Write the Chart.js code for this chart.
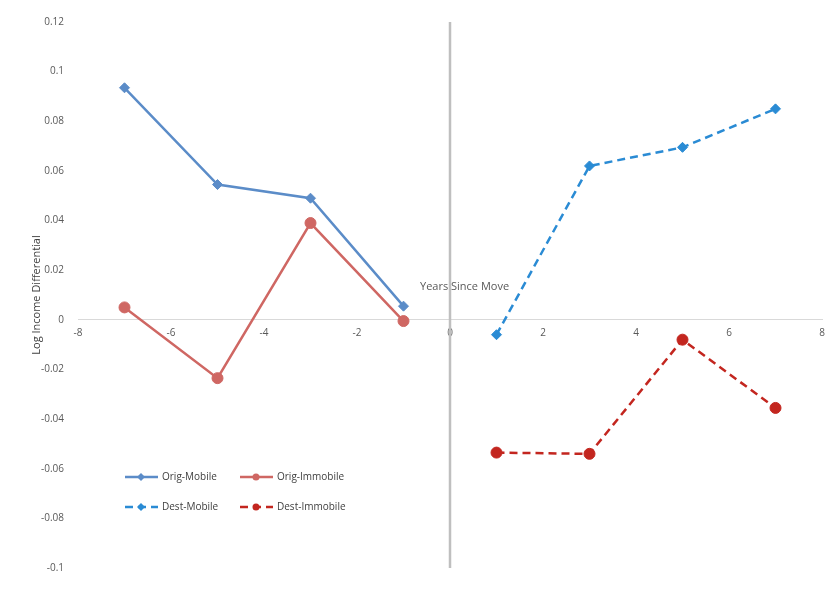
<!DOCTYPE html>
<html>
<head>
<meta charset="utf-8">
<script src="https://cdn.jsdelivr.net/npm/chart.js@4"></script>
<style>
  body { margin: 0; background: #fff; }
  #wrap { width: 830px; height: 602px; }
</style>
</head>
<body>
<div id="wrap"><canvas id="c"></canvas></div>
<script>
// years relative to the move
const origYears = [-7, -5, -3, -1];
const destYears = [1, 3, 5, 7];

// log income differentials
const origMobile = [0.0935, 0.0545, 0.049, 0.0055];
const origImmobile = [0.005, -0.0235, 0.039, -0.0005];
const destMobile = [-0.006, 0.062, 0.0695, 0.085];
const destImmobile = [-0.0535, -0.054, -0.008, -0.0355];

const seriesNames = ['Orig-Mobile', 'Orig-Immobile', 'Dest-Mobile', 'Dest-Immobile'];
const seriesColors = ['#5b8cc8', '#cf6763', '#2a8bd4', '#c3261f'];

const toPoints = (xs, ys) => xs.map((x, i) => ({ x: x, y: ys[i] }));

function makeSet(i, xs, ys, style, dashed) {
    return {
        label: seriesNames[i],
        data: toPoints(xs, ys),
        borderColor: seriesColors[i],
        backgroundColor: seriesColors[i],
        borderWidth: 2.5,
        borderDash: dashed ? [8, 5] : [],
        pointStyle: style,
        pointRadius: style === 'circle' ? 5.5 : 5,
        pointBorderWidth: 1,
        tension: 0
    };
}

//plugin for the zero line, axis title and the inner legend
const extras = {
    id: 'extras',
    afterDatasetsDraw(chart) {
        const { ctx, scales: { x, y } } = chart;
        ctx.save();
        ctx.strokeStyle = '#bfbfbf';
        ctx.lineWidth = 2.5;
        ctx.beginPath();
        ctx.moveTo(x.getPixelForValue(0), y.top);
        ctx.lineTo(x.getPixelForValue(0), y.bottom);
        ctx.stroke();

        ctx.fillStyle = '#595959';
        ctx.font = '11px "Open Sans", sans-serif';
        ctx.textBaseline = 'middle';
        ctx.fillText('Years Since Move', 420, 287);

        const spots = [[125, 477], [240, 477], [125, 507], [240, 507]];
        chart.data.datasets.forEach((ds, i) => {
            const [lx, ly] = spots[i];
            ctx.strokeStyle = ds.borderColor;
            ctx.fillStyle = ds.borderColor;
            ctx.lineWidth = 2.5;
            ctx.setLineDash(ds.borderDash);
            ctx.beginPath();
            ctx.moveTo(lx, ly);
            ctx.lineTo(lx + 33, ly);
            ctx.stroke();
            ctx.setLineDash([]);
            ctx.beginPath();
            const cx = lx + 16;
            if (ds.pointStyle === 'circle') {
                ctx.arc(cx, ly, 3.5, 0, Math.PI * 2);
            } else {
                ctx.moveTo(cx, ly - 4); ctx.lineTo(cx + 4, ly);
                ctx.lineTo(cx, ly + 4); ctx.lineTo(cx - 4, ly);
                ctx.closePath();
            }
            ctx.fill();
            ctx.fillStyle = '#404040';
            ctx.font = '10px "Open Sans", sans-serif';
            ctx.fillText(ds.label, lx + 37, ly);
        });
        ctx.restore();
    }
};

new Chart(document.getElementById('c'), {
    type: 'line',
    data: {
        datasets: [
            makeSet(0, origYears, origMobile, 'rectRot', false),
            makeSet(1, origYears, origImmobile, 'circle', false),
            makeSet(2, destYears, destMobile, 'rectRot', true),
            makeSet(3, destYears, destImmobile, 'circle', true)
        ]
    },
    options: {
        responsive: true,
        maintainAspectRatio: false,
        animation: false,
        layout: { padding: { top: 22, right: 8, bottom: 34, left: 26 } },
        scales: {
            x: {
                type: 'linear',
                min: -8, max: 8,
                position: { y: 0 },
                grid: { display: false, drawTicks: true, tickLength: 4 },
                border: { color: '#d9d9d9', width: 1 },
                ticks: { stepSize: 2, color: '#595959', font: { size: 10, family: '"Open Sans", sans-serif' } }
            },
            y: {
                min: -0.1, max: 0.12,
                afterFit(scale) { scale.width = 52; },
                grid: { display: false },
                border: { display: false },
                title: { display: true, text: 'Log Income Differential', color: '#404040', font: { size: 11, family: '"Open Sans", sans-serif' } },
                ticks: {
                    stepSize: 0.02,
                    padding: 6,
                    color: '#595959',
                    font: { size: 10, family: '"Open Sans", sans-serif' },
                    callback: v => String(Number(v.toFixed(2)))
                }
            }
        },
        plugins: { legend: { display: false }, tooltip: { enabled: false } }
    },
    plugins: [extras]
});
</script>
</body>
</html>
